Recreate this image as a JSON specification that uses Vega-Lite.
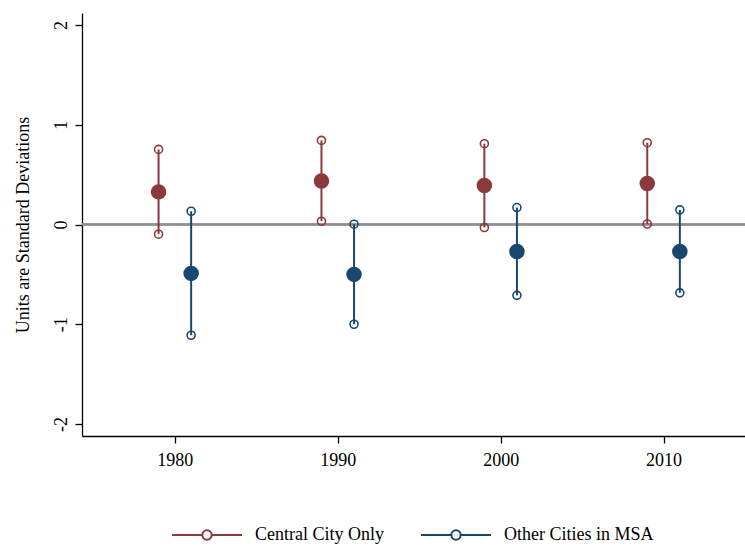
{
  "$schema": "https://vega.github.io/schema/vega-lite/v6.json",
  "width": 663,
  "height": 423,
  "autosize": {"type": "none"},
  "padding": {"left": 82, "top": 13, "right": 0, "bottom": 116},
  "background": "white",
  "config": {
    "view": {"stroke": null},
    "font": "Liberation Serif",
    "axis": {"grid": false, "domainColor": "black", "tickColor": "black", "labelColor": "black", "titleColor": "black", "labelFont": "Liberation Serif", "titleFont": "Liberation Serif", "labelFontSize": 18, "titleFontSize": 18, "titleFontWeight": "normal", "domainWidth": 1.3, "tickWidth": 1.3, "tickSize": 7}
  },
  "data": {
    "values": [
      {"group": "Central City Only", "x": 1979, "est": 0.327, "lo": -0.097, "hi": 0.753},
      {"group": "Other Cities in MSA", "x": 1981, "est": -0.49, "lo": -1.11, "hi": 0.133},
      {"group": "Central City Only", "x": 1989, "est": 0.437, "lo": 0.033, "hi": 0.843},
      {"group": "Other Cities in MSA", "x": 1991, "est": -0.50, "lo": -1.0, "hi": 0.003},
      {"group": "Central City Only", "x": 1999, "est": 0.39, "lo": -0.03, "hi": 0.81},
      {"group": "Other Cities in MSA", "x": 2001, "est": -0.27, "lo": -0.71, "hi": 0.17},
      {"group": "Central City Only", "x": 2009, "est": 0.41, "lo": 0.005, "hi": 0.82},
      {"group": "Other Cities in MSA", "x": 2011, "est": -0.27, "lo": -0.685, "hi": 0.147}
    ]
  },
  "layer": [
    {
      "mark": {"type": "rule", "color": "#8f8f8f", "strokeWidth": 1.5},
      "encoding": {"y": {"datum": 0, "type": "quantitative"}}
    },
    {
      "mark": {"type": "rule", "strokeWidth": 2},
      "encoding": {
        "x": {"field": "x", "type": "quantitative",
              "scale": {"domain": [1974.3, 2015], "nice": false, "zero": false},
              "axis": {"values": [1980, 1990, 2000, 2010], "format": "d", "title": null, "labelPadding": 8, "labelFontSize": 18, "labelFont": "Liberation Serif"}},
        "y": {"field": "lo", "type": "quantitative",
              "scale": {"domain": [-2.12, 2.12], "nice": false},
              "axis": {"values": [-2, -1, 0, 1, 2], "labelExpr": "datum.value < 0 ? '-' + abs(datum.value) : '' + datum.value",
                       "title": "Units are Standard Deviations", "labelAngle": -90, "labelAlign": "center", "labelBaseline": "bottom", "labelPadding": 5, "titlePadding": 20,
                       "labelFontSize": 18, "labelFont": "Liberation Serif", "titleFontSize": 18, "titleFont": "Liberation Serif", "titleFontWeight": "normal"}},
        "y2": {"field": "hi"},
        "color": {"field": "group", "type": "nominal",
                  "scale": {"domain": ["Central City Only", "Other Cities in MSA"], "range": ["#8B393D", "#1A476F"]},
                  "legend": {"orient": "none", "legendX": 89, "legendY": 486, "direction": "horizontal", "title": null, "padding": 0,
                             "symbolType": "M-1,0H-0.134M0.134,0H1M0.134,0C0.134,0.074,0.074,0.134,0,0.134C-0.074,0.134,-0.134,0.074,-0.134,0C-0.134,-0.074,-0.074,-0.134,0,-0.134C0.074,-0.134,0.134,-0.074,0.134,0ZM0.134,0C0.134,-0.074,0.074,-0.134,0,-0.134C-0.074,-0.134,-0.134,-0.074,-0.134,0C-0.134,0.074,-0.074,0.134,0,0.134C0.074,0.134,0.134,0.074,0.134,0Z",
                             "symbolSize": 4900, "symbolStrokeWidth": 2, "symbolOpacity": 1, "symbolFillColor": "white",
                             "labelFont": "Liberation Serif", "labelFontSize": 18, "labelColor": "black",
                             "labelOffset": 12, "columnPadding": 33}}
      }
    },
    {
      "mark": {"type": "point", "shape": "circle", "filled": false, "opacity": 1, "size": 64, "strokeWidth": 1.6},
      "encoding": {
        "x": {"field": "x", "type": "quantitative"},
        "y": {"field": "lo", "type": "quantitative"},
        "stroke": {"field": "group", "type": "nominal", "legend": null,
                   "scale": {"domain": ["Central City Only", "Other Cities in MSA"], "range": ["#8B393D", "#1A476F"]}}
      }
    },
    {
      "mark": {"type": "point", "shape": "circle", "filled": false, "opacity": 1, "size": 64, "strokeWidth": 1.6},
      "encoding": {
        "x": {"field": "x", "type": "quantitative"},
        "y": {"field": "hi", "type": "quantitative"},
        "stroke": {"field": "group", "type": "nominal", "legend": null}
      }
    },
    {
      "mark": {"type": "point", "shape": "circle", "filled": true, "opacity": 1, "size": 240},
      "encoding": {
        "x": {"field": "x", "type": "quantitative"},
        "y": {"field": "est", "type": "quantitative"},
        "fill": {"field": "group", "type": "nominal", "legend": null,
                 "scale": {"domain": ["Central City Only", "Other Cities in MSA"], "range": ["#8B393D", "#1A476F"]}}
      }
    }
  ]
}
